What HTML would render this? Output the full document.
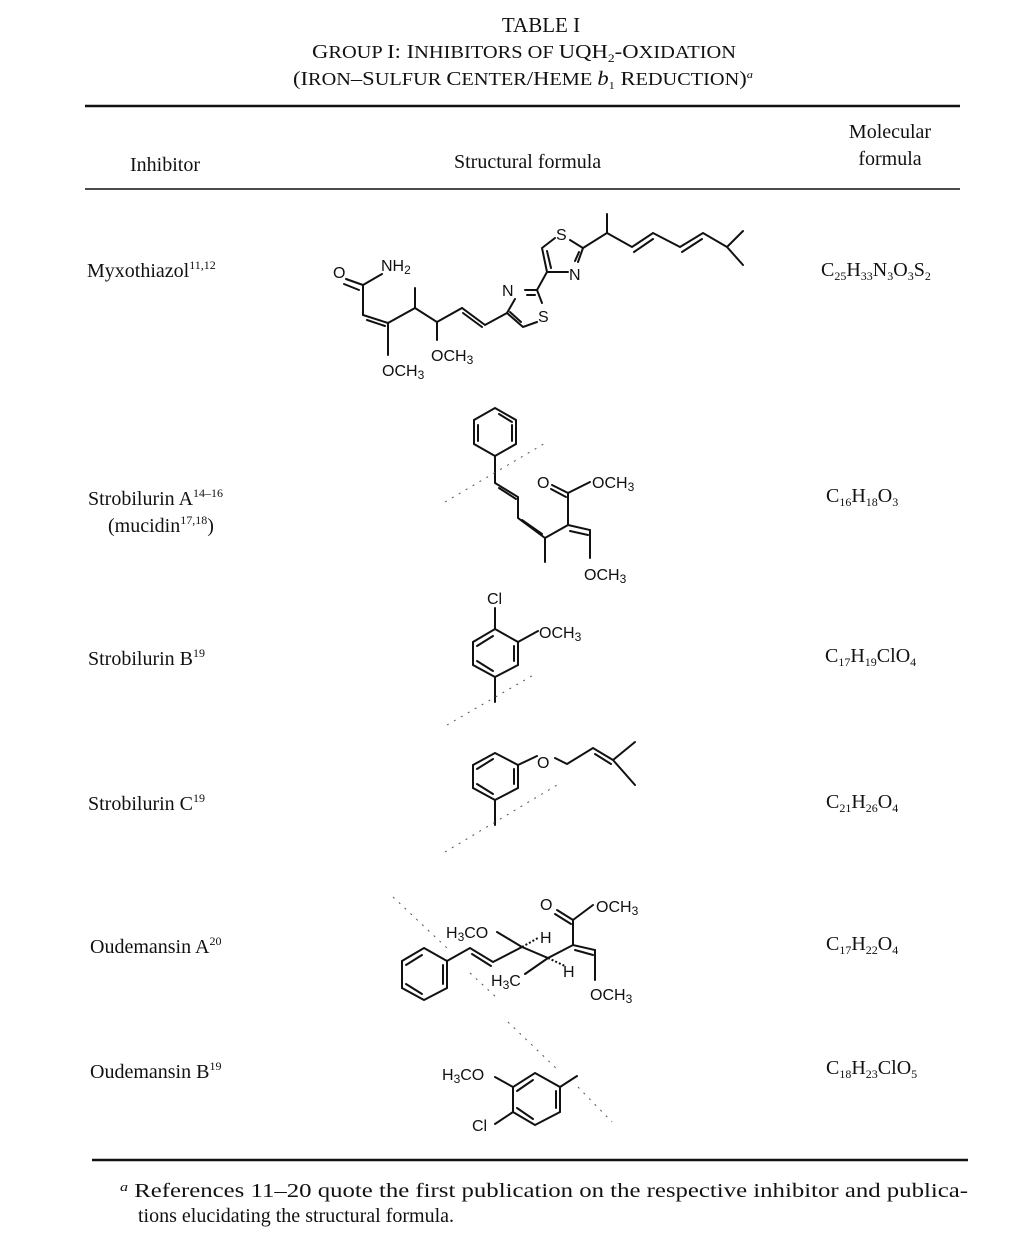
<!DOCTYPE html>
<html><head><meta charset="utf-8"><style>
html,body{margin:0;padding:0;background:#fff;}
svg{display:block;}
.t{font-family:"Liberation Serif",serif;fill:#111;}
.a{font-family:"Liberation Sans",sans-serif;font-size:16px;fill:#111;}
.b{stroke:#111;stroke-width:2;fill:none;stroke-linecap:round;}
.d{stroke:#555;stroke-width:1;fill:none;stroke-dasharray:2 6;}
</style></head><body>
<svg width="1017" height="1233" viewBox="0 0 1017 1233" xmlns="http://www.w3.org/2000/svg">
<!-- Title -->
<text class="t" x="541" y="32" font-size="21" text-anchor="middle">TABLE I</text>
<text class="t" x="524" y="58" font-size="18" text-anchor="middle" textLength="424" lengthAdjust="spacingAndGlyphs"><tspan font-size="20">G</tspan>ROUP <tspan font-size="20">I: I</tspan>NHIBITORS OF <tspan font-size="20">UQH</tspan><tspan font-size="12" dy="4">2</tspan><tspan dy="-4" font-size="20">-O</tspan>XIDATION</text>
<text class="t" x="523" y="85" font-size="18" text-anchor="middle" textLength="460" lengthAdjust="spacingAndGlyphs"><tspan font-size="20">(I</tspan>RON<tspan font-size="20">–S</tspan>ULFUR <tspan font-size="20">C</tspan>ENTER<tspan font-size="20">/H</tspan>EME <tspan font-style="italic" font-size="20">b</tspan><tspan font-size="11" dy="4">1</tspan><tspan dy="-4" font-size="20"> R</tspan>EDUCTION<tspan font-size="20">)</tspan><tspan font-size="11" dy="-7" font-style="italic">a</tspan></text>
<line x1="85" y1="106" x2="960" y2="106" stroke="#111" stroke-width="2.5"/>
<text class="t" x="130" y="171" font-size="20">Inhibitor</text>
<text class="t" x="454" y="168" font-size="20">Structural formula</text>
<text class="t" x="890" y="138" font-size="20" text-anchor="middle">Molecular</text>
<text class="t" x="890" y="165" font-size="20" text-anchor="middle">formula</text>
<line x1="85" y1="189" x2="960" y2="189" stroke="#111" stroke-width="1.5"/>

<!-- Names -->
<text class="t" x="87" y="277" font-size="20">Myxothiazol<tspan font-size="12" dy="-8">11,12</tspan></text>
<text class="t" x="88" y="505" font-size="20">Strobilurin A<tspan font-size="12" dy="-8">14–16</tspan></text>
<text class="t" x="108" y="532" font-size="20">(mucidin<tspan font-size="12" dy="-8">17,18</tspan><tspan dy="8">)</tspan></text>
<text class="t" x="88" y="665" font-size="20">Strobilurin B<tspan font-size="12" dy="-8">19</tspan></text>
<text class="t" x="88" y="810" font-size="20">Strobilurin C<tspan font-size="12" dy="-8">19</tspan></text>
<text class="t" x="90" y="953" font-size="20">Oudemansin A<tspan font-size="12" dy="-8">20</tspan></text>
<text class="t" x="90" y="1078" font-size="20">Oudemansin B<tspan font-size="12" dy="-8">19</tspan></text>

<!-- Molecular formulas -->
<g class="t" font-size="20">
<text x="821" y="276">C<tspan font-size="12" dy="4">25</tspan><tspan dy="-4">H</tspan><tspan font-size="12" dy="4">33</tspan><tspan dy="-4">N</tspan><tspan font-size="12" dy="4">3</tspan><tspan dy="-4">O</tspan><tspan font-size="12" dy="4">3</tspan><tspan dy="-4">S</tspan><tspan font-size="12" dy="4">2</tspan></text>
<text x="826" y="502">C<tspan font-size="12" dy="4">16</tspan><tspan dy="-4">H</tspan><tspan font-size="12" dy="4">18</tspan><tspan dy="-4">O</tspan><tspan font-size="12" dy="4">3</tspan></text>
<text x="825" y="662">C<tspan font-size="12" dy="4">17</tspan><tspan dy="-4">H</tspan><tspan font-size="12" dy="4">19</tspan><tspan dy="-4">ClO</tspan><tspan font-size="12" dy="4">4</tspan></text>
<text x="826" y="808">C<tspan font-size="12" dy="4">21</tspan><tspan dy="-4">H</tspan><tspan font-size="12" dy="4">26</tspan><tspan dy="-4">O</tspan><tspan font-size="12" dy="4">4</tspan></text>
<text x="826" y="950">C<tspan font-size="12" dy="4">17</tspan><tspan dy="-4">H</tspan><tspan font-size="12" dy="4">22</tspan><tspan dy="-4">O</tspan><tspan font-size="12" dy="4">4</tspan></text>
<text x="826" y="1074">C<tspan font-size="12" dy="4">18</tspan><tspan dy="-4">H</tspan><tspan font-size="12" dy="4">23</tspan><tspan dy="-4">ClO</tspan><tspan font-size="12" dy="4">5</tspan></text>
</g>

<!-- Myxothiazol -->
<g class="b">
<path d="M363 285 L382 274"/>
<path d="M346 279 L363 285 M344 284 L359 290"/>
<path d="M363 285 L363 315 L388 323 L388 355"/>
<path d="M367 320 L385 326"/>
<path d="M388 323 L415 308 L415 288 M415 308 L437 322 L437 340 M437 322 L462 308 L485 325 L507 313"/>
<path d="M463 313 L482 327"/>
<path d="M507 313 L515 299 M525 290 L537 290 M527 295 L535 295 M537 290 L542 303 M537 322 L523 327 L507 313 M521 322 L510 312"/>
<path d="M537 290 L547 272 L542 248 L555 238 M570 240 L583 248 L578 262 M568 272 L547 272 M551 268 L547 251 M579 252 L575 261"/>
<path d="M583 248 L607 233 L607 214 M607 233 L632 247 L653 233 L680 247 L703 233 L727 247 L743 231 M727 247 L743 265"/>
<path d="M634 252 L653 239 M682 252 L702 239"/>
</g>
<g class="a">
<text x="333" y="278">O</text>
<text x="381" y="271">NH<tspan font-size="12" dy="3">2</tspan></text>
<text x="382" y="376">OCH<tspan font-size="12" dy="3">3</tspan></text>
<text x="431" y="361">OCH<tspan font-size="12" dy="3">3</tspan></text>
<text x="502" y="296">N</text>
<text x="538" y="322">S</text>
<text x="556" y="240">S</text>
<text x="569" y="280">N</text>
</g>

<!-- Strobilurin A -->
<g class="b">
<path d="M495 408 L516 420 L516 444 L495 456 L474 444 L474 420 Z"/>
<path d="M499 414 L512 422 M512 425 L512 441 M478 425 L478 441"/>
<path d="M495 456 L495 483 L518 497 L518 518 L545 538 L545 562 M545 538 L568 525 L568 493 M568 525 L590 530 L590 558"/>
<path d="M499 488 L516 499 M522 520 L542 534 M570 531 L588 535"/>
<path d="M568 493 L590 482 M568 493 L552 485 M566 497 L551 489"/>
</g>
<path class="d" d="M445 502 L547 442"/>
<g class="a">
<text x="537" y="488">O</text>
<text x="592" y="488">OCH<tspan font-size="12" dy="3">3</tspan></text>
<text x="584" y="580">OCH<tspan font-size="12" dy="3">3</tspan></text>
</g>

<!-- Strobilurin B -->
<g class="b">
<path d="M495 629 L518 642 L518 665 L495 677 L473 665 L473 642 Z"/>
<path d="M514 646 L514 661 M477 646 L493 636 M477 661 L493 671"/>
<path d="M495 629 L495 608 M518 642 L538 631 M495 677 L495 702"/>
</g>
<path class="d" d="M447 725 L537 673"/>
<g class="a">
<text x="487" y="604">Cl</text>
<text x="539" y="638">OCH<tspan font-size="12" dy="3">3</tspan></text>
</g>

<!-- Strobilurin C -->
<g class="b">
<path d="M495 753 L518 765 L518 788 L495 800 L473 788 L473 765 Z"/>
<path d="M514 769 L514 784 M477 769 L493 759 M477 784 L493 794"/>
<path d="M495 800 L495 825 M518 765 L537 756 M555 758 L567 764 L593 748 L613 760 L635 742 M613 760 L635 785 M595 754 L611 764"/>
</g>
<path class="d" d="M445 852 L557 785"/>
<text class="a" x="537" y="768">O</text>

<!-- Oudemansin A -->
<g class="b">
<path d="M424 948 L447 961 L447 988 L424 1000 L402 988 L402 961 Z"/>
<path d="M443 965 L443 984 M406 965 L422 955 M406 984 L422 994"/>
<path d="M447 961 L470 948 L493 962 L522 947 L548 958 L573 945 L595 950 L595 980"/>
<path d="M472 954 L491 966 M575 950 L593 955"/>
<path d="M497 932 L522 947 M548 958 L525 974"/>
<path d="M573 945 L573 920 L593 905 M573 920 L557 910 M571 924 L555 914"/>
</g>
<g stroke="#111" stroke-width="2" stroke-dasharray="2 2"><path d="M522 947 L538 938 M548 958 L565 966"/></g>
<path class="d" d="M393 897 L447 948 M470 973 L497 998 M508 1022 L560 1072 M578 1087 L612 1122"/>
<g class="a">
<text x="446" y="938">H<tspan font-size="12" dy="3">3</tspan><tspan dy="-3">CO</tspan></text>
<text x="540" y="943">H</text>
<text x="491" y="986">H<tspan font-size="12" dy="3">3</tspan><tspan dy="-3">C</tspan></text>
<text x="563" y="977">H</text>
<text x="540" y="910">O</text>
<text x="596" y="912">OCH<tspan font-size="12" dy="3">3</tspan></text>
<text x="590" y="1000">OCH<tspan font-size="12" dy="3">3</tspan></text>
</g>

<!-- Oudemansin B -->
<g class="b">
<path d="M535 1073 L560 1087 L560 1112 L535 1125 L513 1112 L513 1087 Z"/>
<path d="M556 1091 L556 1108 M517 1091 L533 1080 M517 1108 L533 1119"/>
<path d="M495 1077 L513 1087 M513 1112 L495 1124 M560 1087 L577 1076"/>
</g>
<g class="a">
<text x="442" y="1080">H<tspan font-size="12" dy="3">3</tspan><tspan dy="-3">CO</tspan></text>
<text x="472" y="1131">Cl</text>
</g>

<!-- footer -->
<line x1="92" y1="1160" x2="968" y2="1160" stroke="#111" stroke-width="2.5"/>
<text class="t" x="120" y="1197" font-size="20" textLength="848" lengthAdjust="spacingAndGlyphs"><tspan font-style="italic" font-size="13" dy="-6">a</tspan><tspan dy="6"> References 11–20 quote the first publication on the respective inhibitor and publica-</tspan></text>
<text class="t" x="138" y="1222" font-size="20">tions elucidating the structural formula.</text>
</svg>
</body></html>
